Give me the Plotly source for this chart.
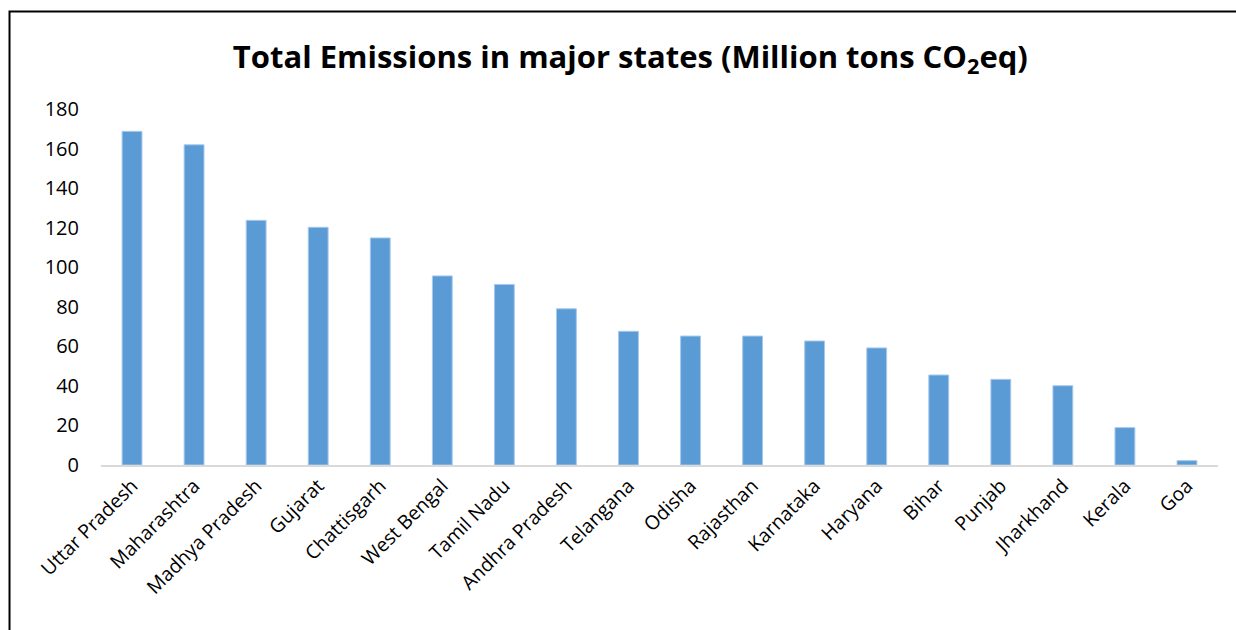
import plotly.graph_objects as go

states = ["Uttar Pradesh", "Maharashtra", "Madhya Pradesh", "Gujarat", "Chattisgarh",
          "West Bengal", "Tamil Nadu", "Andhra Pradesh", "Telangana", "Odisha",
          "Rajasthan", "Karnataka", "Haryana", "Bihar", "Punjab", "Jharkhand",
          "Kerala", "Goa"]
emissions = [168.7, 161.9, 123.7, 120.2, 114.8, 95.6, 91.3, 79.0, 67.6, 65.2,
             65.2, 62.7, 59.2, 45.5, 43.3, 40.1, 18.9, 2.2]
y_ticks = [0, 20, 40, 60, 80, 100, 120, 140, 160, 180]

FONT = "Open Sans"

fig = go.Figure(go.Bar(
    x=states, y=emissions,
    marker=dict(color="#5b9bd5", line=dict(color="#a7c9ec", width=1)),
))

fig.update_layout(
    width=1236, height=630,
    margin=dict(l=101, r=18, t=109, b=165),
    paper_bgcolor="white", plot_bgcolor="white",
    bargap=0.68,
    showlegend=False,
    title=dict(text="<b>Total Emissions in major states (Million tons CO<sub>2</sub>eq)</b>",
               x=0.51, xanchor="center", y=0.91, yanchor="middle",
               font=dict(family=FONT, size=31, color="black")),
    font=dict(family=FONT, color="black"),
    xaxis=dict(tickangle=-45, tickfont=dict(size=19.5, color="black"),
               showline=True, linecolor="#d9d9d9", linewidth=1.5,
               showgrid=False, ticks=""),
    yaxis=dict(range=[0, 180], tickvals=y_ticks, showgrid=False,
               zeroline=False, showline=False, ticks="",
               tickfont=dict(size=20, color="black"), ticklabelstandoff=21),
    shapes=[dict(type="rect", xref="paper", yref="paper",
                 x0=-0.0819, x1=1.05, y0=-0.6, y1=1.274,
                 line=dict(color="black", width=2), fillcolor="rgba(0,0,0,0)",
                 layer="above")],
)

fig.write_html("out.html")
